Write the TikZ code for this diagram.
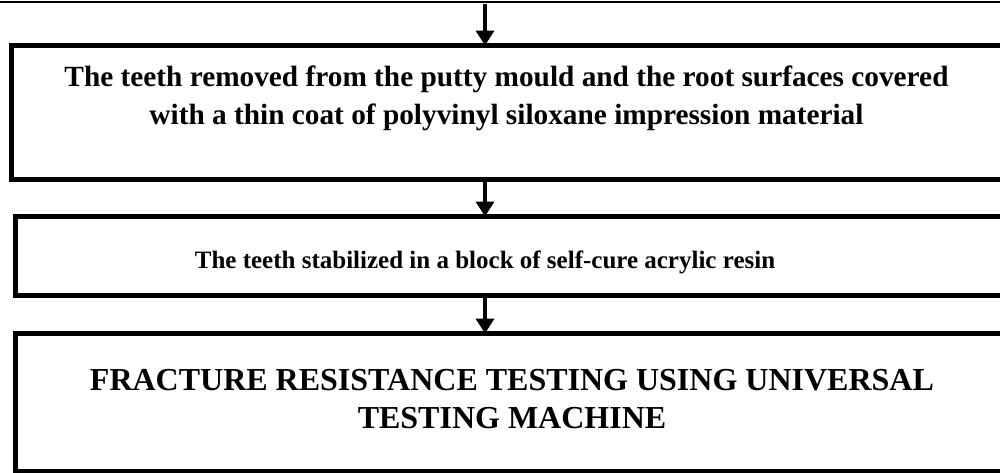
\documentclass[tikz,border=0pt]{standalone}
\usepackage{fontspec}
\setmainfont{Liberation Serif}
\usetikzlibrary{arrows.meta}
\begin{document}
\begin{tikzpicture}[x=1pt,y=-1pt,
  box/.style={draw=black,line width=5pt,anchor=north west,inner sep=0pt,outer sep=0pt},
  arr/.style={line width=4pt,-{Triangle[width=18pt,length=15pt]}},
  lbl/.style={inner sep=0pt,align=center,font=\bfseries}]
\useasboundingbox (0,0) rectangle (1000,472);
\clip (0,0) rectangle (1000,472);
\draw[line width=2pt] (-5,2) -- (1005,2);
\coordinate (top) at (485,3.5);
\node[box,minimum width=992.5pt,minimum height=133.5pt] (b1) at (11.5,45.5) {};
\node[box,minimum width=989pt,minimum height=79pt] (b2) at (15,216.5) {};
\node[box,minimum width=989pt,minimum height=138pt] (b3) at (15,333.5) {};
\node[lbl,font=\bfseries\fontsize{29.3}{38}\selectfont] (t1) at (506.5,98.5)
  {The teeth removed from the putty mould and the root surfaces covered\\with a thin coat of polyvinyl siloxane impression material};
\node[lbl,anchor=base,font=\bfseries\fontsize{25}{30}\selectfont] (t2) at (485,268)
  {The teeth stabilized in a block of self-cure acrylic resin};
\node[lbl,font=\bfseries\fontsize{32}{38}\selectfont] (t3) at (512,399.5)
  {FRACTURE RESISTANCE TESTING USING UNIVERSAL\\TESTING MACHINE};
\draw[arr] (top) -- (top |- b1.north);
\draw[arr] (b1.south -| top) -- (b2.north -| top);
\draw[arr] (b2.south -| top) -- (b3.north -| top);
\end{tikzpicture}
\end{document}
